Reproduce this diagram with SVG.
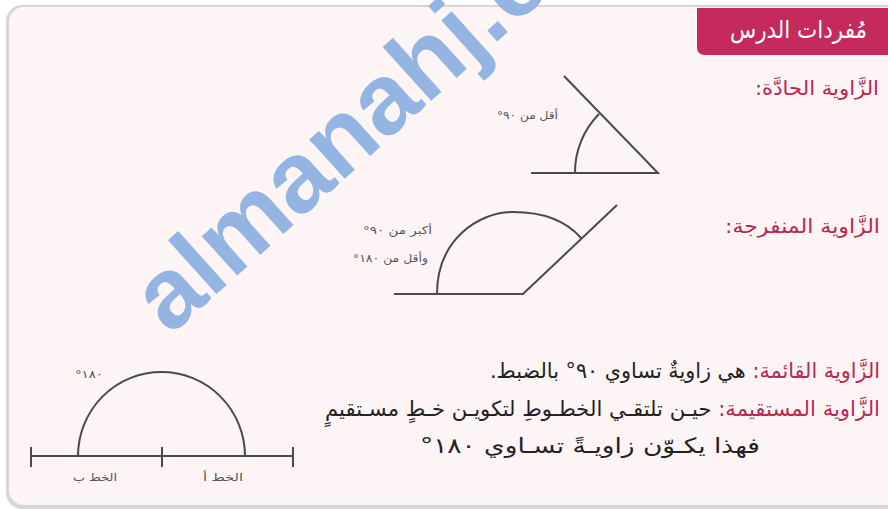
<svg xmlns="http://www.w3.org/2000/svg" width="888" height="509" viewBox="0 0 888 509">
<defs>
<style>
.ar{font-family:"DejaVu Sans","Noto Sans",sans-serif;direction:rtl;unicode-bidi:embed}
.term{fill:#b8294f;font-size:20px}
.body{fill:#222;font-size:21px}
.small{fill:#555;font-size:11px}
.geo{fill:none;stroke:#4a4a4a;stroke-width:2;stroke-linecap:butt}
</style>
</defs>
<rect width="888" height="509" fill="#ffffff"/>
<rect x="6" y="5" width="900" height="504" rx="16" fill="#d9d6d7"/>
<rect x="9" y="7" width="900" height="498" rx="15" fill="#fdf4f6"/>
<g id="header">
<path d="M697,8 H888 V55 H705 Q697,55 697,47 Z" fill="#c42a5b"/>
<text class="ar" x="867" y="38" fill="#ffffff" font-size="24" textLength="137" lengthAdjust="spacingAndGlyphs">مُفردات الدرس</text>
</g>
<g id="acute">
<text class="ar term" x="879" y="95" textLength="124" lengthAdjust="spacingAndGlyphs">الزَّاوية الحادَّة:</text>
<path class="geo" d="M531,173 H658 L564,76"/>
<path class="geo" d="M575,173 A83,83 0 0 1 599,114"/>
<text class="ar small" x="558" y="119" textLength="61" lengthAdjust="spacingAndGlyphs">أقل من ٩٠°</text>
</g>
<g id="obtuse">
<text class="ar term" x="880" y="233" textLength="155" lengthAdjust="spacingAndGlyphs">الزَّاوية المنفرجة:</text>
<path class="geo" d="M394,294 H523 L617,205"/>
<path class="geo" d="M437,294 C437,240 478,212 513,212 C546,212 568,223 581,238"/>
<text class="ar small" x="432" y="234" textLength="69" lengthAdjust="spacingAndGlyphs">أكبر من ٩٠°</text>
<text class="ar small" x="428" y="262" textLength="75" lengthAdjust="spacingAndGlyphs">وأقل من ١٨٠°</text>
</g>
<g id="right">
<text class="ar body" x="880" y="378" textLength="390" lengthAdjust="spacingAndGlyphs"><tspan fill="#b8294f">الزَّاوية القائمة:</tspan> هي زاويةٌ تساوي ٩٠° بالضبط.</text>
</g>
<g id="straight">
<text class="ar body" x="880" y="416" textLength="555" lengthAdjust="spacingAndGlyphs"><tspan fill="#b8294f">الزَّاوية المستقيمة:</tspan> حيـن تلتقـي الخطـوطِ لتكويـن خـطٍ مسـتقيمٍ</text>
<text class="ar body" x="760" y="453" textLength="340" lengthAdjust="spacingAndGlyphs">فهذا يكـوّن زاويـةً تسـاوي ١٨٠°</text>
<path class="geo" d="M30,456 H294 M31,447 V467 M162,447 V467 M293,447 V467"/>
<path class="geo" d="M78,456 A83.5,84 0 0 1 245,456"/>
<text class="ar small" x="103" y="378" textLength="28" lengthAdjust="spacingAndGlyphs">١٨٠°</text>
<text class="ar small" x="117" y="481" textLength="44" lengthAdjust="spacingAndGlyphs">الخط ب</text>
<text class="ar small" x="243" y="481" textLength="40" lengthAdjust="spacingAndGlyphs">الخط أ</text>
</g>
<g id="watermark">
<text x="0" y="0" transform="translate(170,336) rotate(-42)" font-family="Liberation Sans,Arial,sans-serif" font-weight="bold" font-size="100" fill="#94b5e2">almanahj.c</text>
</g>
</svg>
